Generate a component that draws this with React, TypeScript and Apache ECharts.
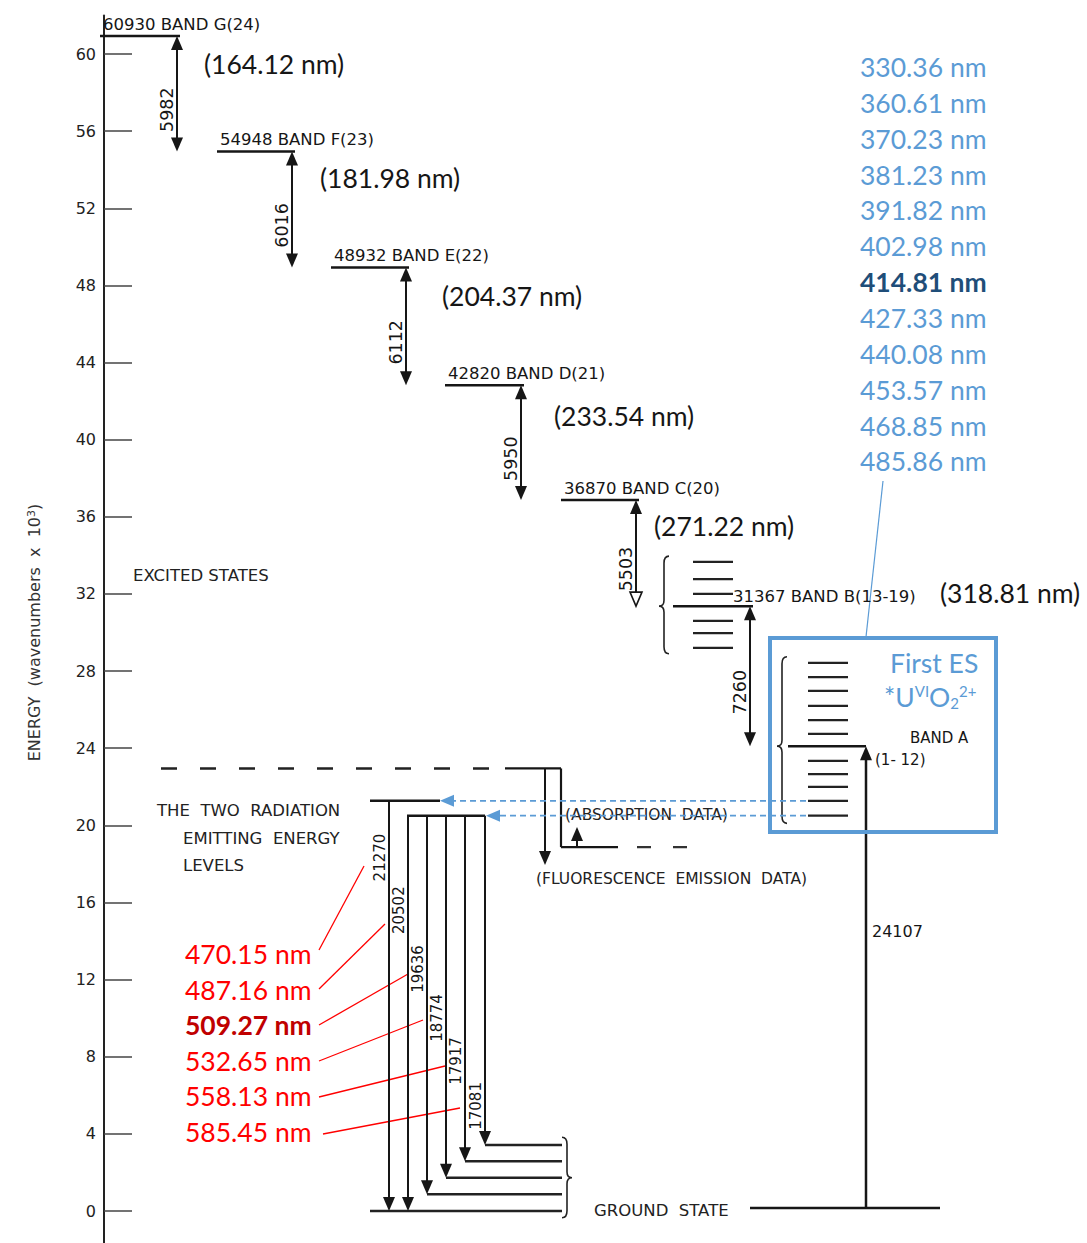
import React, { useEffect, useRef } from 'react';
import * as echarts from 'echarts';

// ---------------- Data (energies in 10^3 cm^-1) ----------------
const bandEnergy = [60.93, 54.948, 48.932, 42.82, 36.87, 31.367];
const bandLabels = ['60930 BAND G(24)', '54948 BAND F(23)', '48932 BAND E(22)', '42820 BAND D(21)', '36870 BAND C(20)', '31367 BAND B(13-19)'];
const bandWavelengths = ['(164.12 nm)', '(181.98 nm)', '(204.37 nm)', '(233.54 nm)', '(271.22 nm)', '(318.81 nm)'];
const gapLabels = ['5982', '6016', '6112', '5950', '5503', '7260'];
const bandAEnergy = 24.107;
const bandALabel = 'BAND A';
const bandARange = '(1- 12)';
const bandAGapLabel = '24107';
const bandBSublevels = [33.66, 32.77, 32.0, 30.6, 29.97, 29.2];
const bandASublevels = [28.42, 27.69, 26.97, 26.19, 25.46, 24.74, 23.34, 22.66, 21.99, 21.27, 20.502];
const emittingLevels = [21.27, 20.502];
const emissionLabels = ['21270', '20502', '19636', '18774', '17917', '17081'];
const emissionFrom = [21.27, 20.502, 20.502, 20.502, 20.502, 20.502];
const emissionTo = [0, 0, 0.866, 1.728, 2.585, 3.421];
const groundSublevels = [0, 0.866, 1.728, 2.585, 3.421];
const emissionWavelengths = ['470.15 nm', '487.16 nm', '509.27 nm', '532.65 nm', '558.13 nm', '585.45 nm'];
const emissionBold = 2;
const absorptionWavelengths = ['330.36 nm', '360.61 nm', '370.23 nm', '381.23 nm', '391.82 nm', '402.98 nm', '414.81 nm', '427.33 nm', '440.08 nm', '453.57 nm', '468.85 nm', '485.86 nm'];
const absorptionBold = 6;
const fluorescenceLevel = 22.95;
const absorptionLevel = 18.87;
const fluorescenceArrowEnd = 17.94;
const absorptionArrowEnd = 19.91;
const yTicks = [0, 4, 8, 12, 16, 20, 24, 28, 32, 36, 40, 44, 48, 52, 56, 60];
const yMin = -2;
const yMax = 62;

// ---------------- Layout (schematic x positions, px) ----------------
const bandLineX0 = [100, 217, 331, 445, 561, 673];
const gapArrowX = [177, 292, 406, 521, 636, 750];
const bandNmPos = [[204, 64], [320, 178], [442, 296], [554, 416], [654, 526], [940, 593]];
const emissionArrowX = [389, 408, 427, 446, 465, 485];
const emissionLabelE = [18.33, 15.6, 12.55, 10.01, 7.78, 5.45];
const emittingX = [[370, 440], [407, 485]];
const groundX0 = [370, 427, 446, 465, 485];
const groundX1 = 562;
const blueTipX = [440, 486];
const blueTailX = 806;

const INK = '#161616';
const SCAN = "'DejaVu Sans', Arial, sans-serif";
const NMF = "Lato, 'Open Sans', sans-serif";
const BLUE = '#5b9bd5';
const DBLUE = '#1f4e79';
const RED = '#ff0000';
const DRED = '#c00000';
const NM_SIZE = 26.5;

function seg(x1: number, y1: number, x2: number, y2: number, w = 2, stroke = INK, dash?: number[]) {
  const style: any = { stroke, lineWidth: w };
  if (dash) style.lineDash = dash;
  return { type: 'line', shape: { x1, y1, x2, y2 }, style };
}
function head(x: number, y: number, dir: string, color = INK, hollow = false) {
  const L = 14, W = 6;
  let pts: number[][];
  if (dir === 'up') pts = [[x, y], [x - W, y + L], [x + W, y + L]];
  else if (dir === 'down') pts = [[x, y], [x - W, y - L], [x + W, y - L]];
  else pts = [[x, y], [x + L, y - W], [x + L, y + W]];
  return {
    type: 'polygon',
    shape: { points: pts },
    style: hollow ? { fill: '#fff', stroke: color, lineWidth: 1.6 } : { fill: color },
  };
}
function label(x: number, y: number, text: string, size: number, o: any = {}) {
  return {
    type: 'text',
    x,
    y,
    rotation: o.rot || 0,
    style: {
      text,
      font: `${o.weight || 'normal'} ${size}px ${o.family || SCAN}`,
      fill: o.color || INK,
      align: o.align || 'left',
      verticalAlign: o.va || 'middle',
    },
  };
}

function buildOption() {
  const series: any[] = [];

  // excited band levels with labels
  series.push({
    type: 'custom',
    name: 'bands',
    data: bandEnergy.map((e, i) => [bandLineX0[i], e]),
    renderItem: (params: any, api: any) => {
      const i = params.dataIndex;
      const e = api.value(1);
      const [x0, y] = api.coord([api.value(0), e]);
      const [x1] = api.coord([gapArrowX[i] + 3, e]);
      const kids: any[] = [seg(x0, y, x1, y, 2.5)];
      if (i < bandEnergy.length - 1) kids.push(label(x0 + 3, y - 3, bandLabels[i], 16.5, { va: 'bottom' }));
      else kids.push(label(x1 - 20, y - 10, bandLabels[i], 16.5));
      return { type: 'group', children: kids };
    },
  });

  // band wavelength annotations
  series.push({
    type: 'custom',
    name: 'bandNm',
    data: bandEnergy.map((e, i) => [bandNmPos[i][0], e]),
    renderItem: (params: any) => {
      const i = params.dataIndex;
      return label(bandNmPos[i][0], bandNmPos[i][1], bandWavelengths[i], NM_SIZE, { family: NMF });
    },
  });

  // gap arrows between bands
  series.push({
    type: 'custom',
    name: 'gaps',
    data: gapLabels.map((_, i) => [gapArrowX[i], bandEnergy[i]]),
    renderItem: (params: any, api: any) => {
      const i = params.dataIndex;
      const bottom = i < bandEnergy.length - 1 ? bandEnergy[i + 1] : bandAEnergy;
      const [x, yt] = api.coord([api.value(0), api.value(1)]);
      const [, yb] = api.coord([api.value(0), bottom]);
      return {
        type: 'group',
        children: [
          seg(x, yt + 10, x, yb - 10, 2),
          head(x, yt, 'up'),
          head(x, yb, 'down', INK, i === 4),
          label(x - 10, (yt + yb) / 2 + 16, gapLabels[i], 17.5, { rot: Math.PI / 2, align: 'center' }),
        ],
      };
    },
  });

  // sublevels of bands B and A
  series.push({
    type: 'custom',
    name: 'sublevels',
    data: [...bandBSublevels.map((e) => [693, e]), ...bandASublevels.map((e) => [808, e])],
    renderItem: (params: any, api: any) => {
      const [x0, y] = api.coord([api.value(0), api.value(1)]);
      const [x1] = api.coord([api.value(0) + 40, api.value(1)]);
      return seg(x0, y, x1, y, 2.2, '#222');
    },
  });

  // band A main level + excitation from ground
  series.push({
    type: 'custom',
    name: 'bandA',
    data: [[788, bandAEnergy]],
    renderItem: (params: any, api: any) => {
      const [x0, y] = api.coord([api.value(0), api.value(1)]);
      const [xa, y0] = api.coord([866, 0]);
      const [xg0] = api.coord([750, 0]);
      const [xg1] = api.coord([940, 0]);
      const [, yl] = api.coord([866, 14.52]);
      return {
        type: 'group',
        children: [
          seg(x0, y, xa, y, 2.5),
          seg(xa, y0 - 3, xa, y + 10, 2.5),
          head(xa, y, 'up'),
          seg(xg0, y0 - 3, xg1, y0 - 3, 2.5),
          label(910, y - 8, bandALabel, 15),
          label(875, y + 14, bandARange, 15),
          label(872, yl, bandAGapLabel, 16),
        ],
      };
    },
  });

  // braces
  const braceData = [
    [664, Math.max(...bandBSublevels) + 0.3, Math.min(...bandBSublevels) - 0.3, bandEnergy[5], -1],
    [782, Math.max(...bandASublevels) + 0.32, Math.min(...bandASublevels) - 0.4, bandAEnergy, -1],
    [567, Math.max(...groundSublevels) + 0.4, Math.min(...groundSublevels) - 0.35, groundSublevels[2], 1],
  ];
  series.push({
    type: 'custom',
    name: 'braces',
    data: braceData,
    renderItem: (params: any, api: any) => {
      const [x, yT] = api.coord([api.value(0), api.value(1)]);
      const [, yB] = api.coord([api.value(0), api.value(2)]);
      const [, yM] = api.coord([api.value(0), api.value(3)]);
      const d = api.value(4);
      const pathData = `M ${x - d * 5} ${yT} Q ${x} ${yT} ${x} ${yT + 7} L ${x} ${yM - 6} Q ${x} ${yM} ${x + d * 5} ${yM} Q ${x} ${yM} ${x} ${yM + 6} L ${x} ${yB - 7} Q ${x} ${yB} ${x - d * 5} ${yB}`;
      return { type: 'path', shape: { pathData }, style: { stroke: '#222', fill: 'none', lineWidth: 1.6 } };
    },
  });

  // the two emitting levels
  series.push({
    type: 'custom',
    name: 'emitting',
    data: emittingLevels.map((e, i) => [emittingX[i][0], e]),
    renderItem: (params: any, api: any) => {
      const i = params.dataIndex;
      const [x0, y] = api.coord([api.value(0), api.value(1)]);
      const [x1] = api.coord([emittingX[i][1], api.value(1)]);
      return seg(x0, y, x1, y, 2.5);
    },
  });

  // ground-state sublevels
  series.push({
    type: 'custom',
    name: 'ground',
    data: groundSublevels.map((e, i) => [groundX0[i], e]),
    renderItem: (params: any, api: any) => {
      const [x0, y] = api.coord([api.value(0), api.value(1)]);
      const [x1] = api.coord([groundX1, api.value(1)]);
      return seg(x0, y, x1, y, 2.5, '#222');
    },
  });

  // emission arrows
  series.push({
    type: 'custom',
    name: 'emission',
    data: emissionLabels.map((_, i) => [emissionArrowX[i], emissionFrom[i]]),
    renderItem: (params: any, api: any) => {
      const i = params.dataIndex;
      const [x, yt] = api.coord([api.value(0), api.value(1)]);
      const [, yb] = api.coord([api.value(0), emissionTo[i]]);
      const [, yl] = api.coord([api.value(0), emissionLabelE[i]]);
      return {
        type: 'group',
        children: [
          seg(x, yt, x, yb - 10, 2),
          head(x, yb, 'down'),
          label(x - 9, yl, emissionLabels[i], 15, { rot: Math.PI / 2, align: 'center' }),
        ],
      };
    },
  });

  // fluorescence / absorption data lines
  series.push({
    type: 'custom',
    name: 'fluorAbs',
    data: [[161, fluorescenceLevel]],
    renderItem: (params: any, api: any) => {
      const [x0, yf] = api.coord([api.value(0), api.value(1)]);
      const [, ya] = api.coord([561, absorptionLevel]);
      const [, yfe] = api.coord([545, fluorescenceArrowEnd]);
      const [, yae] = api.coord([577, absorptionArrowEnd]);
      const X = (v: number) => api.coord([v, 0])[0];
      return {
        type: 'group',
        children: [
          seg(x0, yf, X(505), yf, 2.5, '#222', [16, 23]),
          seg(X(505), yf, X(561), yf, 2.2),
          seg(X(561), yf, X(561), ya, 2.2),
          seg(X(561), ya, X(618), ya, 2.2),
          seg(X(637), ya, X(695), ya, 2.2, '#333', [14, 22]),
          seg(X(545), yf, X(545), yfe - 10, 2),
          head(X(545), yfe, 'down'),
          seg(X(577), ya, X(577), yae + 10, 2),
          head(X(577), yae, 'up'),
        ],
      };
    },
  });

  // blue dashed arrows from first excited state to emitting levels
  series.push({
    type: 'custom',
    name: 'blueArrows',
    data: emittingLevels.map((e, i) => [blueTipX[i], e]),
    renderItem: (params: any, api: any) => {
      const [x, y] = api.coord([api.value(0), api.value(1)]);
      const [xt] = api.coord([blueTailX, api.value(1)]);
      return {
        type: 'group',
        children: [seg(xt, y, x + 12, y, 1.6, BLUE, [6, 4]), head(x, y, 'left', BLUE)],
      };
    },
  });

  const graphic: any[] = [];
  graphic.push({ type: 'rect', shape: { x: 770, y: 638, width: 226, height: 194 }, style: { stroke: BLUE, fill: 'none', lineWidth: 4 }, z: 10 });
  graphic.push({ type: 'line', shape: { x1: 883, y1: 481, x2: 866, y2: 637 }, style: { stroke: BLUE, lineWidth: 1.2 } });
  graphic.push({ type: 'text', x: 890, y: 663, style: { text: 'First ES', font: `${NM_SIZE}px ${NMF}`, fill: BLUE, align: 'left', verticalAlign: 'middle' } });
  graphic.push({
    type: 'text',
    x: 884,
    y: 697,
    style: {
      text: '{n|*U}{sup|VI}{n|O}{sub|2}{sup|2+}',
      align: 'left',
      verticalAlign: 'middle',
      rich: {
        n: { font: `${NM_SIZE}px ${NMF}`, fill: BLUE },
        sup: { font: `15px ${NMF}`, fill: BLUE, verticalAlign: 'top' },
        sub: { font: `15px ${NMF}`, fill: BLUE, verticalAlign: 'bottom' },
      },
    },
  });
  absorptionWavelengths.forEach((t, i) => {
    const bold = i === absorptionBold;
    graphic.push({
      type: 'text', x: 860, y: 67 + i * 35.85,
      style: { text: t, font: `${bold ? 'bold' : 'normal'} ${NM_SIZE}px ${NMF}`, fill: bold ? DBLUE : BLUE, align: 'left', verticalAlign: 'middle' },
    });
  });
  const redLeaders = [[319, 950, 364, 866], [319, 989, 385, 924], [319, 1025, 408, 974], [319, 1061, 423, 1020], [319, 1097, 445, 1066], [323, 1134, 460, 1108]];
  emissionWavelengths.forEach((t, i) => {
    const bold = i === emissionBold;
    graphic.push({
      type: 'text', x: 185, y: 954 + i * 35.6,
      style: { text: t, font: `${bold ? 'bold' : 'normal'} ${NM_SIZE}px ${NMF}`, fill: bold ? DRED : RED, align: 'left', verticalAlign: 'middle' },
    });
    const l = redLeaders[i];
    graphic.push({ type: 'line', shape: { x1: l[0], y1: l[1], x2: l[2], y2: l[3] }, style: { stroke: RED, lineWidth: 1.3 } });
  });
  const freeTexts: [string, number, number, number][] = [
    ['EXCITED STATES', 133, 575, 16.5],
    ['THE  TWO  RADIATION', 157, 810, 16.5],
    ['EMITTING  ENERGY', 183, 838, 16.5],
    ['LEVELS', 183, 865, 16.5],
    ['(ABSORPTION  DATA)', 565, 815, 15.5],
    ['(FLUORESCENCE  EMISSION  DATA)', 536, 879, 15.5],
    ['GROUND  STATE', 594, 1210, 16.5],
  ];
  freeTexts.forEach(([t, x, y, s]) => {
    graphic.push({ type: 'text', x, y, style: { text: t, font: `${s}px ${SCAN}`, fill: '#222', align: 'left', verticalAlign: 'middle' } });
  });

  // grid: 60 -> y 54, 0 -> y 1211 (19.283 px per unit)
  const pxPerUnit = (1211 - 54) / 60;
  const gridTop = 54 - (yMax - 60) * pxPerUnit;
  const gridBottom = 1243 - (1211 + (0 - yMin) * pxPerUnit);

  return {
    animation: false,
    backgroundColor: '#ffffff',
    grid: { left: 104, right: 0, top: gridTop, bottom: gridBottom, containLabel: false, outerBoundsMode: 'none' },
    xAxis: { type: 'value', min: 104, max: 1087, show: false },
    yAxis: {
      type: 'value',
      min: yMin,
      max: yMax,
      axisLine: { show: true, lineStyle: { color: '#222', width: 2 } },
      axisTick: { show: true, inside: true, length: 28, customValues: yTicks, lineStyle: { color: '#444', width: 1.5 } },
      axisLabel: { color: '#222', fontSize: 16, fontFamily: SCAN, margin: 8, customValues: yTicks },
      splitLine: { show: false },
      name: 'ENERGY  (wavenumbers  x  10{sup|3})',
      nameLocation: 'middle',
      nameGap: 62,
      nameRotate: 90,
      nameTextStyle: {
        color: '#333',
        fontSize: 16,
        fontFamily: SCAN,
        rich: { sup: { fontSize: 11, fontFamily: SCAN, color: '#333', verticalAlign: 'top' } },
      },
    },
    series,
    graphic,
  };
}

export default function App() {
  const ref = useRef<HTMLDivElement>(null);
  useEffect(() => {
    if (!ref.current) return;
    const chart = echarts.init(ref.current, undefined, { renderer: 'svg' });
    chart.setOption(buildOption() as any);
    return () => chart.dispose();
  }, []);
  return <div ref={ref} style={{ position: 'absolute', left: 0, top: 0, width: 1087, height: 1243, background: '#fff' }} />;
}
